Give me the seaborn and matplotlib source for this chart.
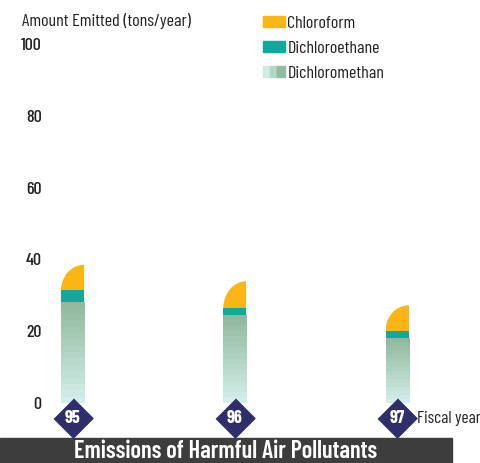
import numpy as np
import pandas as pd
import matplotlib.pyplot as plt
import seaborn as sns
from matplotlib.patches import Patch, Rectangle, Ellipse
from matplotlib.legend_handler import HandlerTuple
from matplotlib.colors import LinearSegmentedColormap

# Data (tons/year)
years = ["95", "96", "97"]
dichloromethane = [28.2, 24.6, 18.0]
dichloroethane = [3.2, 1.8, 2.1]
chloroform = [7.1, 7.5, 7.1]

yellow = "#fbb514"
teal = "#14a89d"
grad_top = "#90b99d"
grad_bottom = "#d4eeea"
navy = "#2f2e6a"
ink = "#222222"

sns.set_style("white")
plt.rcParams["font.family"] = ["Barlow Condensed", "DejaVu Sans"]
plt.rcParams["text.color"] = ink
plt.rcParams["ytick.color"] = ink

df = pd.DataFrame({"year": years, "dcm": dichloromethane,
                   "dce": dichloroethane, "cf": chloroform})
df["lvl2"] = df["dcm"] + df["dce"]
df["total"] = df["lvl2"] + df["cf"]

fig = plt.figure(figsize=(4.81, 4.63), dpi=100)
ax = fig.add_axes([50 / 481, 60 / 463, 410 / 481, 359 / 463])

w = 0.142
sns.barplot(data=df, x="year", y="total", color=yellow, width=w, ax=ax,
            saturation=1, linewidth=0)
sns.barplot(data=df, x="year", y="lvl2", color=teal, width=w, ax=ax,
            saturation=1, linewidth=0)
sns.barplot(data=df, x="year", y="dcm", color=grad_bottom, width=w, ax=ax,
            saturation=1, linewidth=0)

# rounded top-left corner on the chloroform segment
for bar, top2, cf in zip(ax.containers[0], df["lvl2"], df["cf"]):
    x1 = bar.get_x() + bar.get_width()
    ell = Ellipse((x1, top2), 2 * bar.get_width(), 2 * cf, transform=ax.transData)
    bar.set_clip_path(ell)

# gradient fill on dichloromethane segment
cmap = LinearSegmentedColormap.from_list("dcm", [grad_bottom, grad_top])
grad = np.linspace(0, 1, 16).reshape(-1, 1)
for bar in ax.containers[2]:
    x0, h, bw = bar.get_x(), bar.get_height(), bar.get_width()
    im = ax.imshow(grad, cmap=cmap, origin="lower", aspect="auto",
                   extent=(x0, x0 + bw, 0, h), interpolation="nearest",
                   zorder=bar.get_zorder())
    im.set_clip_path(bar)
    bar.set_facecolor("none")
ax.set_xlim(-0.139, 2.388)
ax.set_ylim(0, 100)

ax.set_xlabel("")
ax.set_ylabel("")
ax.set_xticks([])
ax.set_yticks([0, 20, 40, 60, 80, 100])
ax.tick_params(axis="y", length=0, pad=6, labelsize=13)
for lab in ax.get_yticklabels():
    lab.set_fontweight(500)
sns.despine(ax=ax, left=True, bottom=True)

# year diamonds under the bars
for i, yr in enumerate(years):
    ax.plot(i, -4.2, marker=[(0, 1), (1, 0), (0, -1), (-1, 0)], ms=28,
            color=navy, clip_on=False, zorder=5)
    ax.text(i, -4.4, yr, color="white", fontsize=13, fontweight="bold",
            ha="center", va="center", clip_on=False, zorder=6)
ax.text(2.12, -4.4, "Fiscal year", fontsize=12.5, ha="left", va="center", clip_on=False)

fig.text(22 / 481, 1 - 21 / 463, "Amount Emitted (tons/year)", fontsize=13,
         ha="left", va="center")

handles = [Patch(color=yellow), Patch(color=teal),
           (Patch(color="#cfe9e4"), Patch(color="#b3d5c6"), Patch(color="#93bb9f"))]
ax.legend(handles, ["Chloroform", "Dichloroethane", "Dichloromethan"],
          handler_map={tuple: HandlerTuple(ndivide=None, pad=0)},
          loc="upper left", bbox_to_anchor=(263 / 481, 1 - 16 / 463),
          bbox_transform=fig.transFigure, frameon=False, fontsize=13,
          borderpad=0, borderaxespad=0, handlelength=1.2, handleheight=0.5,
          handletextpad=0.15, labelspacing=0.55)

# title band
fig.patches.append(Rectangle((0, 0), 452 / 481, 25 / 463, transform=fig.transFigure,
                             color="#3d3d3d", zorder=0))
fig.text(226 / 481, 11 / 463, "Emissions of Harmful Air Pollutants", color="white",
         fontsize=17.5, fontweight=600, ha="center", va="center")

fig.savefig("out.png", dpi=100)
